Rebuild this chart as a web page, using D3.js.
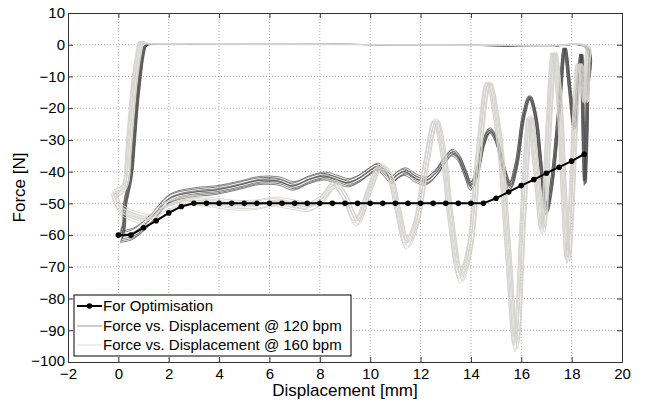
<!DOCTYPE html>
<html>
<head>
<meta charset="utf-8">
<script src="https://cdn.jsdelivr.net/npm/d3@7"></script>
<style>
  body { margin: 0; background: #fff; }
  svg { font-family: "Liberation Sans", Arial, sans-serif; }
</style>
</head>
<body>
<svg width="650" height="407"></svg>
<script>
// x ticks, y ticks
const xTicks = [-2, 0, 2, 4, 6, 8, 10, 12, 14, 16, 18, 20];
const yTicks = [10, 0, -10, -20, -30, -40, -50, -60, -70, -80, -90, -100];

// For Optimisation: displacement [mm], force [N]
const optX = [0, 0.5, 1, 1.5, 2, 2.5, 3, 3.5, 4, 4.5, 5, 5.5, 6, 6.5, 7, 7.5, 8, 8.5, 9, 9.5,
  10, 10.5, 11, 11.5, 12, 12.5, 13, 13.5, 14, 14.5, 15, 15.5, 16, 16.5, 17, 17.5, 18, 18.5];
const optY = [-60, -60, -57.7, -55.5, -53, -51, -50, -50, -50, -50, -50, -50, -50, -50, -50, -50, -50, -50, -50, -50,
  -50, -50, -50, -50, -50, -50, -50, -50, -50, -50, -48.4, -46.4, -44.4, -42.5, -40.5, -38.6, -36.7, -34.5];

// one loop of the 120 bpm trace, [displacement, force]
const loop120 = [
  [0.1, -60.5], [0.22, -57], [0.25, -51], [0.5, -41], [0.62, -30], [0.72, -20], [0.85, -10], [0.97, -3],
  [1.08, -0.3], [1.4, 0.2], [3, 0.3], [5, 0.2], [7, 0.2], [9, 0.1], [11, 0], [13, -0.1], [15, -0.3],
  [17, -0.5], [18.6, -1],
  [18.62, -15], [18.58, -32], [18.52, -43], [18.45, -25], [18.38, -3], [18.25, -12], [18.1, -26],
  [17.92, -14], [17.72, -1], [17.5, -20], [17.2, -44], [17.0, -52], [16.8, -40], [16.55, -22],
  [16.33, -16.5], [16.1, -22], [15.8, -38], [15.55, -44.5], [15.3, -39], [15.0, -30], [14.75, -27],
  [14.5, -31], [14.25, -40], [14.0, -44.5], [13.75, -40], [13.5, -35.5], [13.25, -34], [12.95, -36.5],
  [12.6, -40.5], [12.2, -43], [11.8, -42], [11.4, -40], [11.1, -41], [10.85, -42.5], [10.6, -40.5],
  [10.3, -38.5], [9.95, -40], [9.6, -42], [9.15, -43.5], [8.7, -42.5], [8.2, -41.4], [7.6, -42.5],
  [6.95, -44.5], [6.4, -43], [5.6, -42.8], [4.8, -44.3], [3.9, -45.8], [3.0, -46.5], [2.05, -48.5],
  [1.25, -55.3], [0.6, -59.5], [0.1, -60.5]
];

// one loop of the 160 bpm trace, [displacement, force]
const loop160 = [
  [0.1, -52], [-0.15, -47], [0.1, -46], [0.28, -44], [0.4, -34], [0.52, -22], [0.65, -11], [0.8, -3],
  [0.92, 1], [1.02, 0.5], [1.5, 0.3], [3, 0.3], [5, 0.2], [7, 0.2], [9, 0.1], [11, 0], [13, -0.1],
  [15, -0.2], [17, -0.4], [18.6, -0.6],
  [18.62, -6], [18.55, -18], [18.42, -9], [18.3, -6], [18.15, -22], [17.98, -52], [17.85, -67],
  [17.7, -48], [17.5, -16], [17.3, -2.5], [17.1, -24], [16.85, -58], [16.6, -40], [16.35, -23],
  [16.1, -50], [15.78, -94], [15.45, -62], [15.1, -28], [14.7, -12], [14.3, -35], [13.95, -64],
  [13.6, -73], [13.2, -55], [12.9, -34], [12.6, -24], [12.25, -36], [11.8, -57], [11.45, -62.5],
  [11.1, -52], [10.75, -41], [10.4, -38.5], [10.0, -45], [9.46, -55.5], [9.0, -48], [8.6, -44],
  [8.1, -48.5], [7.6, -51], [7.0, -50.5], [6.2, -49.5], [5.4, -50.5], [4.5, -50.5], [3.6, -49.5],
  [2.8, -49], [2.2, -50], [1.65, -52], [1.25, -55], [0.6, -54], [0.1, -52]
];

// cycle to cycle spread: [shift in mm, force factor]
const cycles120 = [[0, 1], [0.03, 1.02], [-0.04, 0.98], [0.06, 1.01], [-0.02, 1.03], [0.02, 0.97], [-0.05, 1.0], [0.05, 0.99]];
const cycles160 = [[0, 1], [0.07, 1.02], [-0.06, 0.98], [0.11, 1.0], [-0.09, 1.01], [0.03, 0.97], [-0.03, 1.03], [0.09, 0.99], [-0.11, 1.0]];

const legendLabels = ["For Optimisation", "Force vs. Displacement @ 120 bpm", "Force vs. Displacement @ 160 bpm"];

const font = "'Liberation Sans', Arial, sans-serif";
const svg = d3.select("svg");
const mLeft = 68, mRight = 622, mTop = 13, mBottom = 362;

const x = d3.scaleLinear().domain([-2, 20]).range([mLeft, mRight]);
const y = d3.scaleLinear().domain([-100, 10]).range([mBottom, mTop]);

// grid
svg.append("g").selectAll("line")
  .data(xTicks.slice(1, -1))
  .join("line")
  .attr("x1", d => x(d)).attr("x2", d => x(d))
  .attr("y1", mTop).attr("y2", mBottom)
  .attr("stroke", "#aaa").attr("stroke-dasharray", "1,2");
svg.append("g").selectAll("line")
  .data(yTicks.slice(1, -1))
  .join("line")
  .attr("x1", mLeft).attr("x2", mRight)
  .attr("y1", d => y(d)).attr("y2", d => y(d))
  .attr("stroke", "#aaa").attr("stroke-dasharray", "1,2");

svg.append("clipPath").attr("id", "plot")
  .append("rect").attr("x", mLeft).attr("y", mTop).attr("width", mRight - mLeft).attr("height", mBottom - mTop);

const plot = svg.append("g").attr("clip-path", "url(#plot)");

const loopLine = (cyc) => d3.line()
  .x(d => x(d[0] + cyc[0]))
  .y(d => y(d[1] * cyc[1]))
  .curve(d3.curveCatmullRom.alpha(0.5));

plot.append("g").selectAll("path")
  .data(cycles120)
  .join("path")
  .attr("d", c => loopLine(c)(loop120))
  .attr("fill", "none")
  .attr("stroke", "#4a4a4a")
  .attr("stroke-width", 0.7);

plot.append("g").selectAll("path")
  .data(cycles160)
  .join("path")
  .attr("d", c => loopLine(c)(loop160))
  .attr("fill", "none")
  .attr("stroke", "#d4d2cd")
  .attr("stroke-width", 0.9);

const opt = optX.map((d, i) => [d, optY[i]]);
plot.append("path")
  .attr("d", d3.line().x(d => x(d[0])).y(d => y(d[1]))(opt))
  .attr("fill", "none").attr("stroke", "#000").attr("stroke-width", 2);
plot.append("g").selectAll("circle")
  .data(opt)
  .join("circle")
  .attr("cx", d => x(d[0])).attr("cy", d => y(d[1]))
  .attr("r", 2.8).attr("fill", "#000");

// axes
const axisColor = "#333";
const gB = svg.append("g").attr("transform", `translate(0,${mBottom})`)
  .call(d3.axisBottom(x).tickValues(xTicks).tickSize(-5).tickPadding(7).tickFormat(d3.format("d")));
const gT = svg.append("g").attr("transform", `translate(0,${mTop})`)
  .call(d3.axisTop(x).tickValues(xTicks).tickSize(-5).tickFormat(""));
const gL = svg.append("g").attr("transform", `translate(${mLeft},0)`)
  .call(d3.axisLeft(y).tickValues(yTicks).tickSize(-5).tickPadding(3).tickFormat(d3.format("d")));
const gR = svg.append("g").attr("transform", `translate(${mRight},0)`)
  .call(d3.axisRight(y).tickValues(yTicks).tickSize(-5).tickFormat(""));
[gB, gT, gL, gR].forEach(g => {
  g.select(".domain").attr("stroke", axisColor);
  g.selectAll(".tick line").attr("stroke", axisColor);
  g.selectAll("text").attr("fill", "#000").attr("font-size", 15).attr("font-family", font);
});
gB.selectAll("text").attr("dy", "0.68em");
gL.selectAll("text").filter(d => d === -100).attr("dy", "0.2em");

svg.append("text")
  .attr("x", (mLeft + mRight) / 2).attr("y", 396)
  .attr("text-anchor", "middle").attr("font-size", 17).attr("font-family", font)
  .text("Displacement [mm]");
svg.append("text")
  .attr("transform", `translate(25,${(mTop + mBottom) / 2}) rotate(-90)`)
  .attr("text-anchor", "middle").attr("font-size", 17).attr("font-family", font)
  .text("Force [N]");

// legend
const lg = svg.append("g");
lg.append("rect")
  .attr("x", 74).attr("y", 295).attr("width", 277).attr("height", 61)
  .attr("fill", "#fff").attr("stroke", "#000").attr("stroke-width", 1);
const rowY = [306, 326, 345];
const sampleColor = ["#000", "#999", "#ddd"];
const sampleWidth = [2, 1, 1];
legendLabels.forEach((label, i) => {
  lg.append("line")
    .attr("x1", 77).attr("x2", 102).attr("y1", rowY[i]).attr("y2", rowY[i])
    .attr("stroke", sampleColor[i]).attr("stroke-width", sampleWidth[i]);
  if (i === 0) {
    lg.append("circle").attr("cx", 89.5).attr("cy", rowY[i]).attr("r", 2.8).attr("fill", "#000");
  }
  lg.append("text")
    .attr("x", 103).attr("y", rowY[i]).attr("dy", "0.36em")
    .attr("font-size", 15).attr("font-family", font)
    .text(label);
});
</script>
</body>
</html>
